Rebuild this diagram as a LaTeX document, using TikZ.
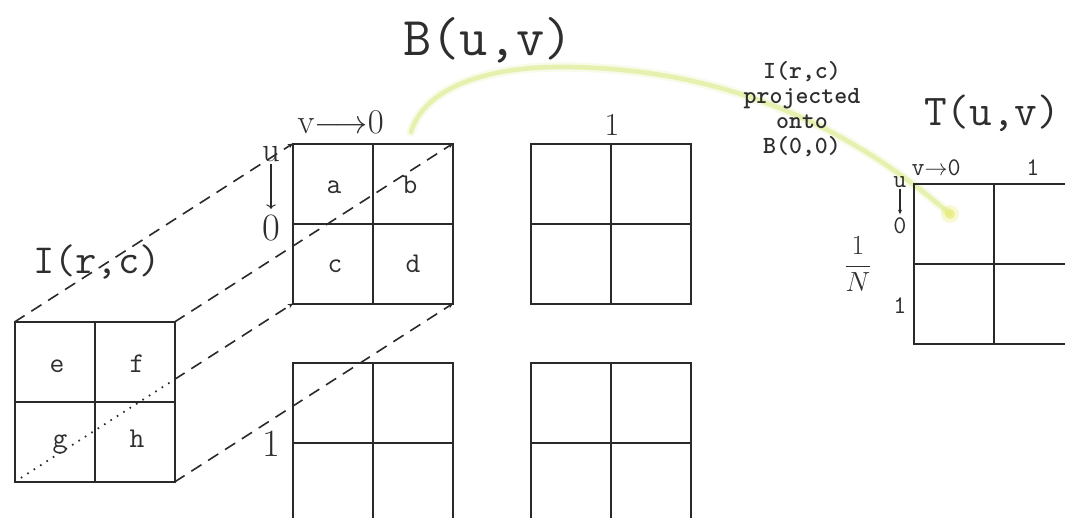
\documentclass[tikz,border=0pt]{standalone}
\usepackage{fontspec}
\usetikzlibrary{arrows.meta,calc}
\definecolor{linec}{HTML}{2A2A2A}
\definecolor{textc}{HTML}{2E2E2E}
\definecolor{glow}{RGB}{214,232,118}
\definecolor{blobc}{RGB}{232,236,110}
\begin{document}
\begin{tikzpicture}[x=0.75pt,y=-0.75pt,
  blockbox/.style={draw=linec,line width=1.5pt,minimum width=120pt,minimum height=120pt,inner sep=0pt,outer sep=0pt},
  cellline/.style={draw=linec,line width=1.5pt},
  projline/.style={draw=linec,line width=1.2pt,dash pattern=on 9pt off 6pt,-{Stealth[length=4pt,width=3.5pt]}},
  hidline/.style={draw=linec,line width=1.3pt,dash pattern=on 1.2pt off 4.5pt},
  celltxt/.style={font=\ttfamily\fontsize{21.5}{24}\selectfont,text=textc,inner sep=0pt,anchor=base},
  ttlab/.style={text=textc,inner sep=0pt,anchor=base},
  cmlab/.style={text=textc,inner sep=0pt,anchor=base},
  smalltt/.style={font=\ttfamily\fontsize{19}{22}\selectfont,text=textc,inner sep=0pt,anchor=base},
  downarr/.style={draw=linec,line width=0.8pt,-{Computer Modern Rightarrow}}]
\useasboundingbox (0,0) rectangle (1065,518);
\clip (0,0) rectangle (1065,518);
\fill[white] (0,0) rectangle (1065,518);

% projection curve (drawn first, under text)
\coordinate (cs) at (411,132);
\coordinate (cm) at (560,67);
\coordinate (ce) at (950,214);
\draw[glow,line width=7pt,opacity=0.15,line cap=round] (cs) .. controls (425,86) and (490,67) .. (cm) .. controls (700,67) and (830,110) .. (ce);
\draw[glow,line width=3.5pt,opacity=0.5,line cap=round] (cs) .. controls (425,86) and (490,67) .. (cm) .. controls (700,67) and (830,110) .. (ce);

% blocks
\node[blockbox] (I) at (94.5,402) {};
\node[blockbox] (B00) at (373,223.5) {};
\node[blockbox] (B01) at (611,223.5) {};
\node[blockbox] (B10) at (373,443) {};
\node[blockbox] (B11) at (611,443) {};
\node[blockbox] (T) at (994,264) {};
\foreach \g in {I,B00,B01,B10,B11,T}{
  \draw[cellline] (\g.north) -- (\g.south);
  \draw[cellline] (\g.west) -- (\g.east);
}

% glow end blob (over T corner)
\fill[blobc,opacity=0.3] (ce) circle (9);
\fill[blobc,opacity=0.6] (ce) circle (5);

% projection lines
\draw[projline] (I.north west) -- (B00.north west);
\draw[projline] (I.north east) -- (B00.north east);
\draw[projline] (I.south east) -- (B00.south east);
\coordinate (hx) at (intersection of I.south west--B00.south west and I.north east--I.south east);
\draw[hidline] (I.south west) -- (hx);
\draw[projline] (hx) -- (B00.south west);

% cell letters
\node[celltxt] (ta) at (334,193) {a};
\node[celltxt] (tb) at (410,193) {b};
\node[celltxt] (tc) at (335,272) {c};
\node[celltxt] (td) at (413,272) {d};
\node[celltxt] (te) at (57,372) {e};
\node[celltxt] (tf) at (137,372) {f};
\node[celltxt] (tg) at (60,447) {g};
\node[celltxt] (th) at (137,447) {h};

% titles
\node[ttlab,font=\ttfamily\fontsize{41}{44}\selectfont] (Blab) at (488,55) {B(u,v)};
\node[ttlab,font=\ttfamily\fontsize{31}{34}\selectfont] (Ilab) at (97,273) {I(r,c)};
\node[ttlab,font=\ttfamily\fontsize{33}{36}\selectfont] (Tlab) at (992,125) {T(u,v)};
\node[text=textc,inner sep=0pt,anchor=north,align=center,font=\ttfamily\bfseries\fontsize{18.5}{18.75}\selectfont] (proj) at (802,61) {I(r,c)\\projected\\onto\\B(0,0)};

% B indices
\node[cmlab,anchor=base east,font=\fontsize{26}{30}\selectfont] (vB) at (384,133) {v${\longrightarrow}$0};
\node[cmlab,font=\fontsize{24}{28}\selectfont] (oneB) at (612,135) {1};
\node[cmlab,font=\fontsize{26}{30}\selectfont] (uB) at (271,161) {u};
\node[cmlab,font=\fontsize{29}{32}\selectfont] (zB) at (271,240) {0};
\draw[downarr,shorten <=2pt,shorten >=4pt] (uB.south) -- (zB.north);
\node[cmlab,font=\fontsize{29}{32}\selectfont] (oneBl) at (271,456) {1};

% T indices
\node[smalltt,anchor=base east] (vT) at (961,175) {v${\rightarrow}$0};
\node[smalltt] (oneT) at (1033,175) {1};
\node[smalltt] (uT) at (900,187) {u};
\node[smalltt] (zT) at (900,233) {0};
\draw[draw=linec,line width=0.8pt,-{Stealth[length=3.5pt,width=3pt]},shorten <=1pt,shorten >=2pt] (uT.south) -- (zT.north);
\node[smalltt] (oneTl) at (900,313) {1};
\node[text=textc,inner sep=0pt,font=\fontsize{22}{25}\selectfont] (frac) at (858,264) {$\displaystyle\frac{1}{N}$};
\end{tikzpicture}
\end{document}
